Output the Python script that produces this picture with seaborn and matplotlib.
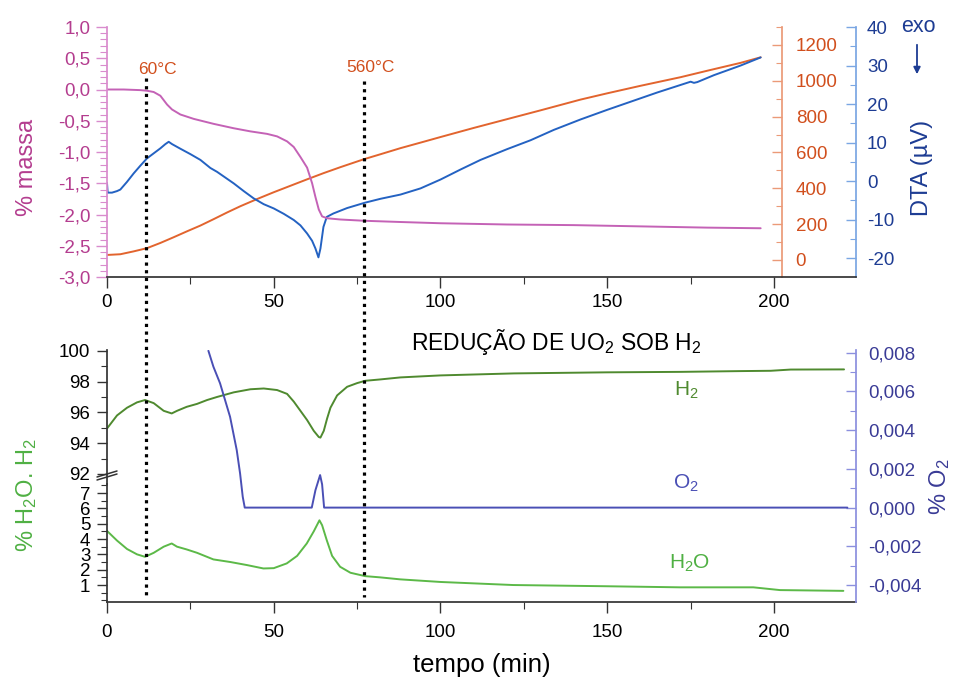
import matplotlib
matplotlib.use("Agg")
import matplotlib.pyplot as plt
from matplotlib.ticker import MultipleLocator, FixedLocator, FuncFormatter
from matplotlib.patches import FancyArrowPatch
from matplotlib.lines import Line2D
import seaborn as sns

# ---------------- data ----------------
# thermogravimetry (% massa) vs time (min)
t_massa = [0, 5, 10, 12, 14, 16, 18, 19.5, 22, 26, 32, 38, 43, 48, 51, 54, 56, 58,
           60, 61.5, 62.5, 63.5, 64.5, 66, 70, 77, 88, 100, 120, 140, 160, 180, 196]
massa = [0.0, 0.0, -0.01, -0.02, -0.04, -0.1, -0.24, -0.32, -0.40, -0.47, -0.55,
         -0.62, -0.67, -0.71, -0.75, -0.83, -0.92, -1.08, -1.25, -1.5, -1.72, -1.92,
         -2.03, -2.06, -2.08, -2.10, -2.12, -2.14, -2.16, -2.17, -2.19, -2.21, -2.22]

# furnace temperature (°C)
t_temp = [0, 4, 8, 12, 16, 20, 24, 28, 32, 36, 40, 45, 50, 55, 60, 65, 70, 77, 82,
          88, 95, 100, 110, 120, 130, 142, 150, 160, 172, 180, 190, 196]
temp = [28, 32, 48, 66, 95, 127, 160, 192, 228, 265, 300, 340, 378, 414, 450, 485,
        518, 562, 590, 624, 660, 686, 737, 786, 835, 895, 930, 972, 1020, 1056, 1100, 1131]

# DTA signal (µV)
t_dta = [0, 0.2, 1.5, 3, 4, 6, 8, 10, 12, 14, 16, 17.5, 18.5, 19.5, 22, 25, 28, 31,
         33, 35.5, 38, 41, 44, 47, 50, 53, 56, 58, 60, 61.5, 62.5, 63.4, 64, 64.9,
         65.9, 67.9, 72, 77.4, 82, 88, 94, 100, 106, 112, 120, 127, 134, 142, 150,
         157, 165, 175, 176, 177, 182, 190, 196]
dta = [-0.5, -3.0, -3.0, -2.6, -2.2, -0.2, 2.0, 4.0, 5.9, 7.2, 8.5, 9.6, 10.2, 9.6,
       8.4, 7.0, 5.5, 3.4, 2.4, 0.9, -0.6, -2.6, -4.5, -6.0, -7.1, -8.5, -10.1, -11.5,
       -13.6, -15.5, -17.5, -19.8, -17.5, -11.9, -9.3, -8.4, -7.0, -5.6, -4.6, -3.5,
       -1.9, 0.4, 3.0, 5.5, 8.3, 10.6, 13.3, 16.0, 18.5, 20.6, 23.0, 25.8, 25.5, 25.7,
       27.5, 30.0, 32.1]

# evolved gas: H2 (%)
t_h2 = [0, 3, 6, 9, 11.4, 14, 17, 19.4, 21, 23.9, 27, 30, 33, 38, 43, 47, 51, 54,
        56, 58, 60, 62, 63.5, 64, 65, 66, 67, 69, 72, 75, 77.4, 82, 88, 100, 122,
        150, 172, 190, 199, 205, 221]
h2 = [94.95, 95.8, 96.3, 96.65, 96.8, 96.6, 96.1, 95.93, 96.1, 96.36, 96.55, 96.8,
      97.0, 97.3, 97.5, 97.55, 97.45, 97.2, 96.7, 96.1, 95.5, 94.8, 94.4, 94.36, 94.8,
      95.6, 96.3, 97.1, 97.66, 97.9, 98.05, 98.14, 98.27, 98.4, 98.53, 98.6, 98.63,
      98.68, 98.7, 98.78, 98.79]

# evolved gas: H2O (%)
t_h2o = [0, 3, 6, 9, 11.4, 14, 17, 19.4, 21, 23.9, 27, 31.9, 37, 42, 46.9, 50, 53.9,
         57, 59.9, 62, 63.7, 64.5, 65.9, 67.5, 69.9, 73, 77.4, 81.9, 87.9, 100, 121.8,
         150, 171.8, 193.8, 201.8, 220.8]
h2o = [4.53, 3.9, 3.35, 3.0, 2.84, 3.1, 3.5, 3.71, 3.5, 3.32, 3.1, 2.67, 2.5, 2.3,
       2.08, 2.1, 2.41, 2.9, 3.71, 4.5, 5.22, 4.9, 3.92, 2.9, 2.19, 1.8, 1.58, 1.50,
       1.37, 1.2, 1.0, 0.92, 0.85, 0.85, 0.67, 0.62]

# evolved gas: O2 (%)
t_o2 = [30.4, 31.9, 33.9, 36.9, 38.9, 39.9, 40.7, 41.3, 61.4, 62.5, 63.9, 64.5, 65.1, 222]
o2 = [0.0081, 0.00728, 0.00642, 0.00469, 0.00297, 0.00177, 0.00056, 0.0, 0.0,
      0.0009, 0.00168, 0.0012, 0.0, 0.0]

time_ticks = [0, 50, 100, 150, 200]
h2_ticks = [92, 94, 96, 98, 100]
h2o_ticks = [1, 2, 3, 4, 5, 6, 7]
marker_times = [11.6, 77.2]
marker_labels = ["60°C", "560°C"]

# ---------------- style ----------------
sns.set_theme(style="ticks")
plt.rcParams["font.family"] = ["Liberation Sans", "DejaVu Sans"]
plt.rcParams["mathtext.fontset"] = "custom"
plt.rcParams["mathtext.rm"] = "Liberation Sans"
plt.rcParams["mathtext.it"] = "Liberation Sans:italic"
plt.rcParams["mathtext.bf"] = "Liberation Sans:bold"
plt.rcParams["axes.unicode_minus"] = False

MAG_LINE, MAG_TXT, MAG_SP = "#c462b6", "#b43d8f", "#d98bcd"
ORA_LINE, ORA_TXT, ORA_SP = "#e2642e", "#d14f1d", "#eb9a78"
BLU_LINE, BLU_TXT, BLU_SP = "#2462c2", "#1d3c93", "#7aa6e3"
H2_LINE, H2O_LINE, H2O_TXT = "#4f8a2f", "#5cb948", "#4fb043"
O2_LINE, O2_TXT, O2_SP = "#4a4fb5", "#3a3b96", "#8b8fde"
DARK = "#333333"
TS = 13.5

W_FIG, H_FIG = 960, 679


def fx(px):
    return px / W_FIG


def fy(py):
    return 1 - py / H_FIG


def comma(fmt):
    def f(v, pos):
        if abs(v) < 1e-12:
            v = 0.0
        return (fmt % v).replace(".", ",")
    return FuncFormatter(f)


def draw(ax, x, y, color, lw=1.4):
    sns.lineplot(x=x, y=y, ax=ax, color=color, linewidth=lw,
                 estimator=None, sort=False, legend=False)
    ax.set_xlabel("")
    ax.set_ylabel("")


fig = plt.figure(figsize=(9.6, 6.79), dpi=100)

L, R = 107, 856
XMAX = (R - L) / 3.335

# ---------------- top panel: TG / temperature / DTA ----------------
top_t, top_b = 27, 277
ax_m = fig.add_axes([fx(L), fy(top_b), fx(R - L), (top_b - top_t) / H_FIG])
ax_T = ax_m.twinx()
ax_D = ax_m.twinx()

draw(ax_T, t_temp, temp, ORA_LINE)
draw(ax_D, t_dta, dta, BLU_LINE)
draw(ax_m, t_massa, massa, MAG_LINE)
ax_m.set_zorder(ax_D.get_zorder() + 1)
ax_m.patch.set_visible(False)

ax_m.set_xlim(0, XMAX)
ax_m.set_ylim(-3.0, 1.0)
ax_T.set_ylim(-95, 1300)
ax_D.set_ylim(-24.9, 40)

for s in ["top", "right"]:
    ax_m.spines[s].set_visible(False)
ax_m.spines["left"].set_color(MAG_SP)
ax_m.spines["bottom"].set_color(DARK)
ax_m.yaxis.set_major_locator(MultipleLocator(0.5))
ax_m.yaxis.set_minor_locator(MultipleLocator(0.1))
ax_m.yaxis.set_major_formatter(comma("%.1f"))
ax_m.tick_params(axis="y", which="major", direction="out", length=8, width=1,
                 color=MAG_SP, labelcolor=MAG_TXT, labelsize=TS, pad=4)
ax_m.tick_params(axis="y", which="minor", direction="out", length=5, width=0.8, color=MAG_SP)
ax_m.xaxis.set_major_locator(FixedLocator(time_ticks))
ax_m.xaxis.set_minor_locator(MultipleLocator(25))
ax_m.tick_params(axis="x", which="major", direction="out", length=8, width=1,
                 color=DARK, labelcolor="black", labelsize=TS, pad=4)
ax_m.tick_params(axis="x", which="minor", direction="out", length=5, width=0.8, color=DARK)

for ax, sp, pos in [(ax_T, ORA_SP, 0.901), (ax_D, BLU_SP, 1.0)]:
    for s in ["top", "left", "bottom"]:
        ax.spines[s].set_visible(False)
    ax.spines["right"].set_visible(True)
    ax.spines["right"].set_color(sp)
    ax.spines["right"].set_position(("axes", pos))

ax_T.yaxis.set_major_locator(MultipleLocator(200))
ax_T.yaxis.set_minor_locator(MultipleLocator(100))
ax_T.tick_params(axis="y", which="major", direction="in", length=7, width=1,
                 color=ORA_SP, labelcolor=ORA_TXT, labelsize=TS, pad=10)
ax_T.tick_params(axis="y", which="minor", direction="in", length=4, width=0.8, color=ORA_SP)

ax_D.yaxis.set_major_locator(MultipleLocator(10))
ax_D.yaxis.set_minor_locator(MultipleLocator(5))
ax_D.tick_params(axis="y", which="major", direction="in", length=7, width=1,
                 color=BLU_SP, labelcolor=BLU_TXT, labelsize=TS, pad=8)
ax_D.tick_params(axis="y", which="minor", direction="in", length=4, width=0.8, color=BLU_SP)

# ---------------- bottom panel: evolved gases ----------------
b_top, b_mid, b_bot = 350, 483.5, 601.7
ax_up = fig.add_axes([fx(L), fy(b_mid), fx(R - L), (b_mid - b_top) / H_FIG], sharex=ax_m)
ax_lo = fig.add_axes([fx(L), fy(b_bot), fx(R - L), (b_bot - b_mid) / H_FIG], sharex=ax_m)
ax_o2 = fig.add_axes([fx(L), fy(b_bot), fx(R - L), (b_bot - b_top) / H_FIG], sharex=ax_m)

draw(ax_up, t_h2, h2, H2_LINE)
draw(ax_lo, t_h2o, h2o, H2O_LINE)
draw(ax_o2, t_o2, o2, O2_LINE)
ax_m.set_xlim(0, XMAX)

ax_up.set_ylim(91.38, 100.05)
ax_lo.set_ylim(-0.087, 7.62)
ax_o2.set_ylim(-0.00486, 0.00814)

for s in ["top", "right", "bottom"]:
    ax_up.spines[s].set_visible(False)
ax_up.spines["left"].set_color(DARK)
ax_up.xaxis.set_visible(False)
ax_up.patch.set_visible(False)
ax_up.yaxis.set_major_locator(FixedLocator(h2_ticks))
ax_up.yaxis.set_minor_locator(FixedLocator([93, 95, 97, 99]))

for s in ["top", "right"]:
    ax_lo.spines[s].set_visible(False)
ax_lo.spines["left"].set_color(DARK)
ax_lo.spines["bottom"].set_color(DARK)
ax_lo.patch.set_visible(False)
ax_lo.yaxis.set_major_locator(FixedLocator(h2o_ticks))
ax_lo.yaxis.set_minor_locator(MultipleLocator(0.5))
ax_lo.tick_params(axis="x", which="major", direction="out", length=8, width=1,
                  color=DARK, labelcolor="black", labelsize=TS, pad=8, labelbottom=True)
ax_lo.tick_params(axis="x", which="minor", direction="out", length=5, width=0.8, color=DARK)

for ax in (ax_up, ax_lo):
    ax.tick_params(axis="y", which="major", direction="out", length=7, width=1,
                   color=DARK, labelcolor="black", labelsize=TS, pad=5)
    ax.tick_params(axis="y", which="minor", direction="out", length=4, width=0.8, color=DARK)

for s in ["top", "left", "bottom"]:
    ax_o2.spines[s].set_visible(False)
ax_o2.spines["right"].set_visible(True)
ax_o2.spines["right"].set_color(O2_SP)
ax_o2.patch.set_visible(False)
ax_o2.xaxis.set_visible(False)
ax_o2.yaxis.tick_right()
ax_o2.yaxis.set_major_locator(MultipleLocator(0.002))
ax_o2.yaxis.set_minor_locator(MultipleLocator(0.001))
ax_o2.yaxis.set_major_formatter(comma("%.3f"))
ax_o2.tick_params(axis="y", which="major", direction="in", length=7, width=1,
                  color=O2_SP, labelcolor=O2_TXT, labelsize=TS, pad=9)
ax_o2.tick_params(axis="y", which="minor", direction="in", length=4, width=0.8, color=O2_SP)

# axis break marks on the left spine
for dy in (0, 3):
    p0 = ((97 - L) / (R - L), (b_mid - (477 + dy)) / (b_mid - b_top))
    p1 = ((117 - L) / (R - L), (b_mid - (471 + dy)) / (b_mid - b_top))
    ax_up.add_line(Line2D([p0[0], p1[0]], [p0[1], p1[1]], transform=ax_up.transAxes,
                          color=DARK, lw=1.1, clip_on=False))

# dotted guides at 60 °C and 560 °C, running through both panels
to_fig = fig.transFigure.inverted()
for tm, ytop, lab, lx, ly in zip(marker_times, [0.184, 0.136], marker_labels,
                                 [157, 370], [70, 68]):
    xa, ya = to_fig.transform(ax_m.transData.transform((tm, ytop)))
    xb, yb = to_fig.transform(ax_lo.transData.transform((tm, 0.21)))
    fig.add_artist(Line2D([xa, xb], [ya, yb], transform=fig.transFigure,
                          color="black", lw=2.3, linestyle=(0, (1, 1.4)),
                          dash_capstyle="butt", zorder=10))
    fig.text(fx(lx), fy(ly), lab, color=ORA_TXT, fontsize=12.5, ha="center", va="center")

# ---------------- labels ----------------
fig.text(fx(27), fy(167), "% massa", rotation=90, color=MAG_TXT, fontsize=17,
         ha="center", va="center")
fig.text(fx(922), fy(168), "DTA (µV)", rotation=90, color=BLU_TXT, fontsize=17,
         ha="center", va="center")
fig.text(fx(918), fy(26), "exo", color=BLU_TXT, fontsize=15.5, ha="center", va="center")
fig.add_artist(FancyArrowPatch(
    (fx(917), fy(42)), (fx(917), fy(77)), transform=fig.transFigure,
    arrowstyle="-|>", mutation_scale=10, color=BLU_TXT, lw=1.3))

fig.text(fx(556), fy(342), "REDUÇÃO DE UO$_2$ SOB H$_2$", color="black", fontsize=16.5,
         ha="center", va="center")
fig.text(fx(27), fy(495), "% H$_2$O. H$_2$", rotation=90, color=H2O_TXT, fontsize=17,
         ha="center", va="center")
fig.text(fx(940), fy(487), "% O$_2$", rotation=90, color=O2_TXT, fontsize=17,
         ha="center", va="center")
fig.text(fx(686), fy(390), "H$_2$", color=H2_LINE, fontsize=15, ha="center", va="center")
fig.text(fx(686), fy(483), "O$_2$", color=O2_LINE, fontsize=15, ha="center", va="center")
fig.text(fx(690), fy(563), "H$_2$O", color=H2O_TXT, fontsize=15, ha="center", va="center")
fig.text(fx(482), fy(665), "tempo (min)", color="black", fontsize=18.5,
         ha="center", va="center")

fig.savefig("out.png", dpi=100)
